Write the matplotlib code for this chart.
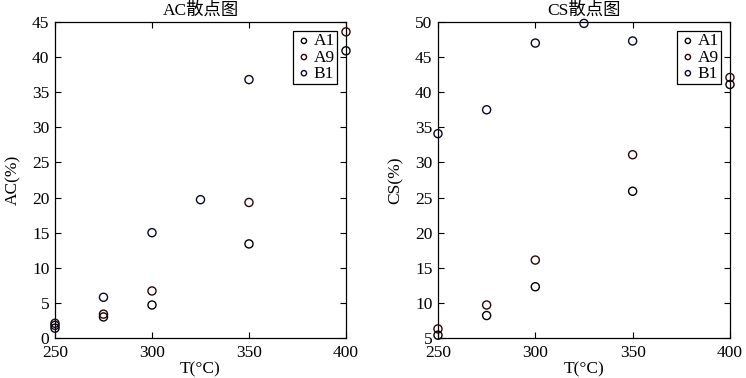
import numpy as np
import matplotlib
matplotlib.use('Agg')
import matplotlib.pyplot as plt

plt.rcParams['font.family'] = ['Liberation Serif', 'Noto Sans CJK SC']
plt.rcParams['mathtext.fontset'] = 'stix'

series = ['A1', 'A9', 'B1']
colors = ['#000000', '#2a0808', '#08082a']

# AC data
ac_T = {
    'A1': [250, 275, 300, 350, 400],
    'A9': [250, 275, 300, 350, 400],
    'B1': [250, 275, 300, 325, 350],
}
ac_val = {
    'A1': [1.4, 3.0, 4.7, 13.4, 40.9],
    'A9': [2.1, 3.4, 6.7, 19.3, 43.6],
    'B1': [1.8, 5.8, 15.0, 19.7, 36.8],
}

# CS data
cs_T = {
    'A1': [250, 275, 300, 350, 400],
    'A9': [250, 275, 300, 350, 400],
    'B1': [250, 275, 300, 325, 350],
}
cs_val = {
    'A1': [5.4, 8.2, 12.3, 25.9, 41.1],
    'A9': [6.3, 9.7, 16.1, 31.1, 42.1],
    'B1': [34.1, 37.5, 47.0, 49.8, 47.3],
}

fig = plt.figure(figsize=(7.46, 3.78), dpi=100)
ax1 = fig.add_axes([0.0737, 0.1058, 0.3901, 0.836])
ax2 = fig.add_axes([0.5871, 0.1058, 0.3914, 0.836])


def draw(ax, T, V, title, ylabel, ylim, yticks):
    for name, c in zip(series, colors):
        ax.scatter(T[name], V[name], s=34, facecolors='none', edgecolors=c,
                   linewidths=1.0, label=name, clip_on=False, zorder=3)
    ax.set_xlim(250, 400)
    ax.set_ylim(*ylim)
    ax.set_xticks([250, 300, 350, 400])
    ax.set_yticks(yticks)
    ax.tick_params(direction='in', top=True, right=True, labelsize=12.5,
                   length=4, width=0.8)
    ax.tick_params(axis='x', pad=5)
    ax.tick_params(axis='y', pad=4)
    for sp in ax.spines.values():
        sp.set_linewidth(0.9)
    ax.set_title(title, fontsize=12.5, pad=5)
    ax.set_xlabel('T(°C)', fontsize=12.5, labelpad=0)
    ax.set_ylabel(ylabel, fontsize=12.5, labelpad=8)
    leg = ax.legend(loc='upper right', fontsize=12.5, handletextpad=0.05,
                    handlelength=1.0, borderpad=0.15, labelspacing=0.0,
                    fancybox=False, framealpha=1, edgecolor='k',
                    borderaxespad=0.5, markerscale=0.65)
    leg.get_frame().set_linewidth(0.9)


draw(ax1, ac_T, ac_val, 'AC散点图', 'AC(%)', (0, 45), range(0, 46, 5))
draw(ax2, cs_T, cs_val, 'CS散点图', 'CS(%)', (5, 50), range(5, 51, 5))

fig.savefig('out.png', dpi=100)
